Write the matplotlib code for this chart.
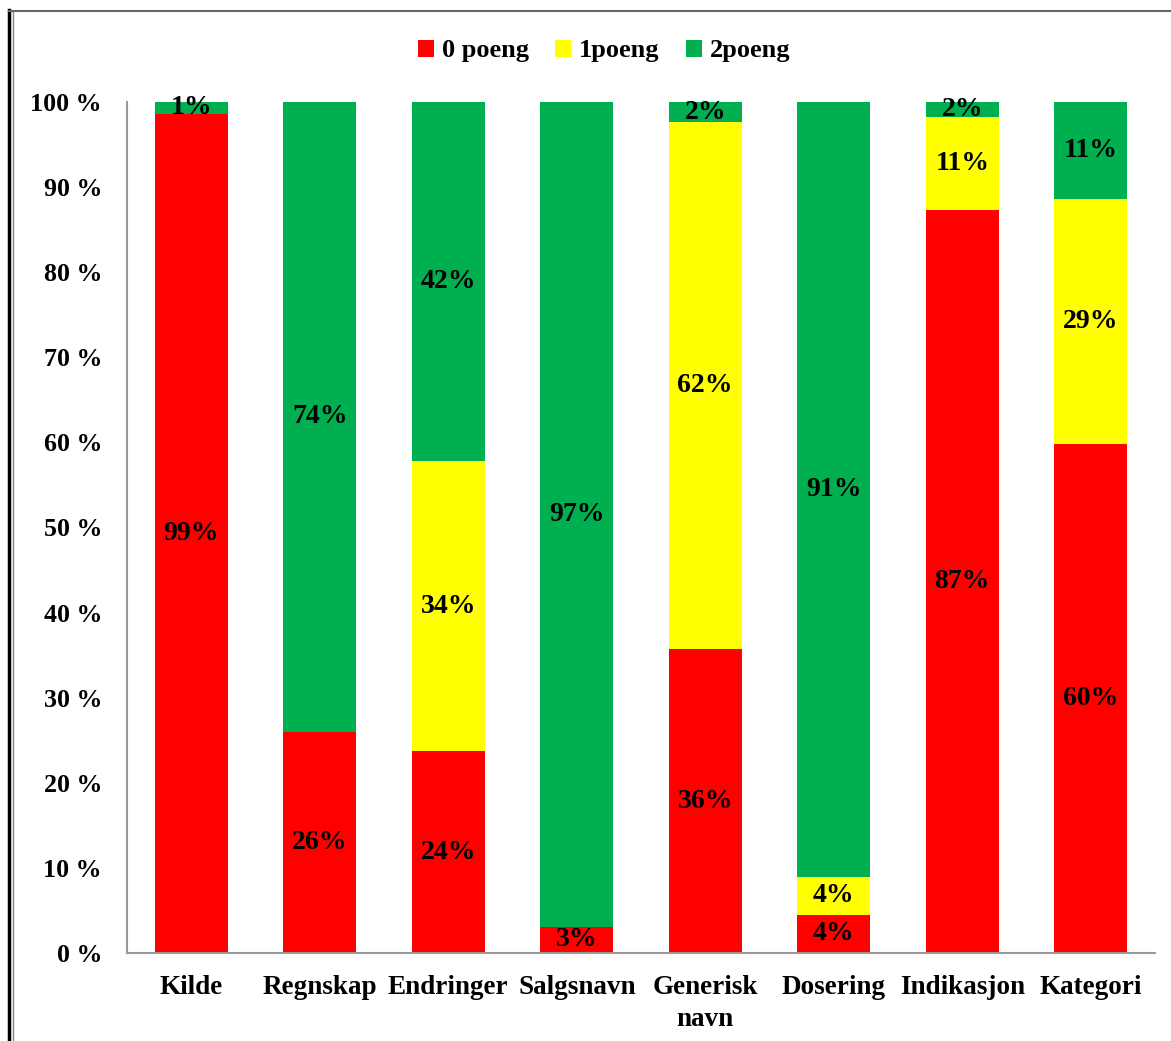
import matplotlib.pyplot as plt
from matplotlib.lines import Line2D

plt.rcParams['font.family'] = ['Liberation Serif', 'DejaVu Serif']
plt.rcParams['font.weight'] = 'bold'

kategorier = ['Kilde', 'Regnskap', 'Endringer', 'Salgsnavn', 'Generisk\nnavn',
              'Dosering', 'Indikasjon', 'Kategori']
poeng0 = [98.6, 26.0, 23.7, 3.1, 35.7, 4.5, 87.3, 59.8]
poeng1 = [0.0, 0.0, 34.1, 0.0, 61.9, 4.4, 10.9, 28.8]
poeng2 = [1.4, 74.0, 42.2, 96.9, 2.4, 91.1, 1.8, 11.4]
serier = ['0 poeng', '1poeng', '2poeng']
farger = ['#ff0000', '#ffff00', '#00b050']

fig = plt.figure(figsize=(11.71, 10.41), dpi=100)
ax = fig.add_axes([127 / 1171, 88 / 1041, 1028 / 1171, 851 / 1041])

x = range(len(kategorier))
bunn = [0.0] * len(kategorier)
for navn, verdier, farge in zip(serier, [poeng0, poeng1, poeng2], farger):
    ax.bar(x, verdier, bottom=bunn, width=0.57, color=farge, label=navn)
    for i, v in enumerate(verdier):
        if v > 0:
            ax.text(i, bunn[i] + v / 2, f'{round(v):.0f}%', ha='center', va='center',
                    fontsize=20, fontweight='bold', color='black')
    bunn = [b + v for b, v in zip(bunn, verdier)]

ax.set_xlim(-0.5, len(kategorier) - 0.5)
ax.set_ylim(0, 100)
ax.set_yticks(range(0, 101, 10))
ax.set_yticklabels([f'{t} %' for t in range(0, 101, 10)])
ax.set_xticks(list(x))
ax.set_xticklabels(kategorier, linespacing=1.35)
ax.tick_params(axis='both', length=0)
ax.tick_params(axis='y', pad=18, labelsize=18.7)
ax.tick_params(axis='x', pad=16, labelsize=19.5)
for s in ['top', 'right']:
    ax.spines[s].set_visible(False)
for s in ['left', 'bottom']:
    ax.spines[s].set_color('#999999')
    ax.spines[s].set_linewidth(1.5)

fig.legend(loc='center', bbox_to_anchor=(604 / 1171, 1 - 51 / 1041), ncol=3,
           frameon=False, fontsize=19, handlelength=0.6, handleheight=0.6,
           handletextpad=0.3, columnspacing=1.0)

# ramme rundt diagrammet
fig.add_artist(Line2D([9 / 1171, 9 / 1171], [0, 1 - 10 / 1041], color='black', lw=2.5,
                      transform=fig.transFigure))
fig.add_artist(Line2D([13 / 1171, 13 / 1171], [0, 1 - 12 / 1041], color='#888888', lw=1,
                      transform=fig.transFigure))
fig.add_artist(Line2D([9 / 1171, 1], [1 - 11 / 1041, 1 - 11 / 1041], color='#666666', lw=1.5,
                      transform=fig.transFigure))

fig.savefig('out.png', dpi=100)
